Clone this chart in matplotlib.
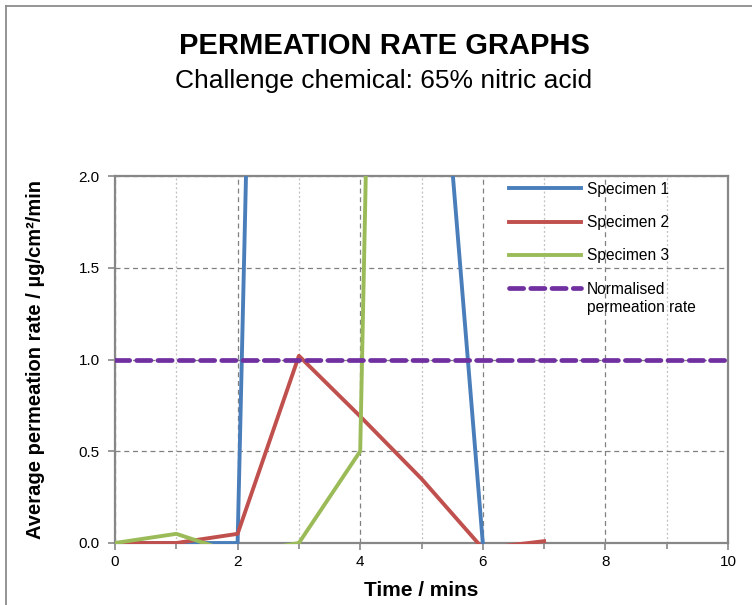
import matplotlib
matplotlib.use("Agg")
import matplotlib.pyplot as plt
from matplotlib.lines import Line2D
from matplotlib.ticker import MultipleLocator, FormatStrFormatter
from matplotlib.transforms import Bbox, TransformedBbox

plt.rcParams['font.family'] = ['Liberation Sans', 'DejaVu Sans']

# readings per minute (values past 2.0 run off the top of the plot)
time_1 = [0, 1, 2, 3, 4, 5, 6]
spec_1 = [0, 0, 0, 14.6, 9.0, 4.1, 0]
time_2 = [0, 1, 2, 3, 4, 5, 6, 7]
spec_2 = [0, 0, 0.05, 1.02, 0.69, 0.35, -0.03, 0.01]
time_3 = [0, 1, 2, 3, 4, 5]
spec_3 = [0, 0.05, -0.06, 0, 0.5, 17.0]
norm_x = [0, 10]
norm_y = [1.0, 1.0]

labels = ['Specimen 1', 'Specimen 2', 'Specimen 3', 'Normalised']
colours = ['#4A7EBB', '#C0504D', '#9BBB59', '#7030A0']

fig = plt.figure(figsize=(7.52, 6.05), dpi=100)
ax = fig.add_axes([115/752, 1 - 543/605, (728-115)/752, (543-176)/605])

lines = []
lines += ax.plot(time_1, spec_1, color=colours[0], lw=2.8, label=labels[0])
lines += ax.plot(time_2, spec_2, color=colours[1], lw=2.8, label=labels[1])
lines += ax.plot(time_3, spec_3, color=colours[2], lw=2.8, label=labels[2])
lines += ax.plot(norm_x, norm_y, color=colours[3], lw=3.4, ls=(0, (3.0, 1.5)),
                 dash_capstyle='round', label=labels[3])

ax.set_xlim(0, 10)
ax.set_ylim(0, 2.0)

# let the lines sit on the x axis a little instead of being cut in half
clip = TransformedBbox(Bbox([[0, -0.004], [1, 1]]), ax.transAxes)
for ln in lines:
    ln.set_clip_box(clip)

ax.xaxis.set_major_locator(MultipleLocator(2))
ax.xaxis.set_minor_locator(MultipleLocator(1))
ax.yaxis.set_major_locator(MultipleLocator(0.5))
ax.yaxis.set_major_formatter(FormatStrFormatter('%.1f'))

ax.grid(which='major', axis='both', color='#808080', ls=(0, (4, 3)), lw=0.9)
ax.grid(which='minor', axis='x', color='#BFBFBF', ls=(0, (1.5, 2)), lw=0.9)
ax.set_axisbelow(True)

for s in ax.spines.values():
    s.set_color('#878787')
    s.set_linewidth(1.6)
    s.set_zorder(1.5)
ax.tick_params(which='both', direction='out', color='#878787', width=1.2,
               labelsize=11, pad=4)
ax.tick_params(which='major', length=5)
ax.tick_params(which='minor', length=4)
ax.tick_params(axis='y', pad=6)

ax.set_xlabel('Time / mins', fontsize=15, fontweight='bold', labelpad=8)
ax.set_ylabel('Average permeation rate / µg/cm²/min', fontsize=14.5,
              fontweight='bold', labelpad=24)

leg = ax.legend(loc='upper left', bbox_to_anchor=(0.625, 1.014), frameon=False,
                fontsize=11.2, handlelength=4.6, handletextpad=0.4,
                labelspacing=1.18, borderaxespad=0.3)

# second line of the last legend entry, under "Normalised"
fig.canvas.draw()
bb = leg.get_texts()[3].get_window_extent()
fig.text(bb.x0 / 752, (bb.y0 - 18) / 605, 'permeation rate', fontsize=11.2,
         ha='left', va='bottom')

fig.text(384/752, 1 - 54/605, 'PERMEATION RATE GRAPHS', ha='center',
         va='baseline', fontsize=21, fontweight='bold')
fig.text(384/752, 1 - 88/605, 'Challenge chemical: 65% nitric acid',
         ha='center', va='baseline', fontsize=19)

# chart frame (left and top edges)
fig.add_artist(Line2D([6/752, 6/752], [0, 1 - 6/605], transform=fig.transFigure,
                      color='#8C8C8C', lw=1.3))
fig.add_artist(Line2D([6/752, 1], [1 - 6/605, 1 - 6/605], transform=fig.transFigure,
                      color='#8C8C8C', lw=1.3))

fig.savefig('out.png', dpi=100)
